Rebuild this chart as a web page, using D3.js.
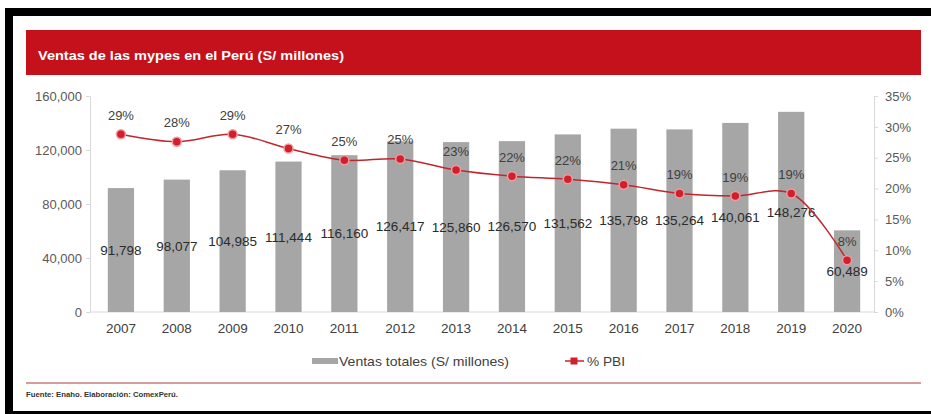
<!DOCTYPE html>
<html>
<head>
<meta charset="utf-8">
<script src="https://cdn.jsdelivr.net/npm/d3@7"></script>
<style>
  html, body { margin: 0; padding: 0; background: #fff; }
  svg { display: block; font-family: "Liberation Sans", Arial, sans-serif; }
</style>
</head>
<body>
<svg id="chart" width="931" height="414"></svg>
<script>
// ---- data ----
const years = ["2007","2008","2009","2010","2011","2012","2013","2014","2015","2016","2017","2018","2019","2020"];
const ventas = [91798, 98077, 104985, 111444, 116160, 126417, 125860, 126570, 131562, 135798, 135264, 140061, 148276, 60489];
const pbi = [28.8, 27.6, 28.8, 26.5, 24.6, 24.8, 23.0, 22.0, 21.5, 20.6, 19.2, 18.8, 19.2, 8.4];
const pbiLabels = ["29%","28%","29%","27%","25%","25%","23%","22%","22%","21%","19%","19%","19%","8%"];
const leftTicks = [0, 40000, 80000, 120000, 160000];
const rightTicks = [0, 5, 10, 15, 20, 25, 30, 35];
const title = "Ventas de las mypes en el Perú (S/ millones)";
const legendLabels = ["Ventas totales (S/ millones)", "% PBI"];
const source = "Fuente: Enaho. Elaboración: ComexPerú.";

const svg = d3.select("#chart");

// frame
svg.append("rect").attr("x", 9).attr("y", 12).attr("width", 940).attr("height", 403)
  .attr("fill", "none").attr("stroke", "#000").attr("stroke-width", 8);

// header
svg.append("rect").attr("x", 26).attr("y", 30).attr("width", 895).attr("height", 45).attr("fill", "#c4111b");
svg.append("text").attr("x", 38).attr("y", 55).attr("dy", "0.35em")
  .attr("fill", "#fff").attr("font-size", 13).attr("font-weight", "bold")
  .attr("textLength", 306).attr("lengthAdjust", "spacingAndGlyphs")
  .text(title);

// scales
const x = d3.scaleBand().domain(years).range([93, 875]).paddingInner(0.53).paddingOuter(0.265);
const y = d3.scaleLinear().domain([0, 160000]).range([312, 96]);
const y2 = d3.scaleLinear().domain([0, 35]).range([312, 96]);

// baseline
svg.append("line").attr("x1", 90).attr("x2", 874).attr("y1", y(0)).attr("y2", y(0))
  .attr("stroke", "#d9d9d9").attr("stroke-width", 1);

// left axis
const gl = svg.append("g").attr("transform", "translate(90,0)")
  .call(d3.axisLeft(y).tickValues(leftTicks).tickSize(4).tickPadding(4).tickFormat(d3.format(",")));
// right axis
const gr = svg.append("g").attr("transform", "translate(874,0)")
  .call(d3.axisRight(y2).tickValues(rightTicks).tickSize(4).tickPadding(7).tickFormat(d => d + "%"));
[gl, gr].forEach(g => {
  g.select(".domain").attr("stroke", "#d9d9d9");
  g.selectAll(".tick line").attr("stroke", "#d9d9d9");
  g.selectAll("text").attr("fill", "#595959").attr("font-size", 13).attr("font-family", "Liberation Sans, Arial, sans-serif");
});

// bottom axis (years)
const gb = svg.append("g").attr("transform", `translate(0,${y(0)})`)
  .call(d3.axisBottom(x).tickSize(0).tickPadding(11));
gb.select(".domain").remove();
gb.selectAll("text").attr("fill", "#404040").attr("font-size", 13.5).attr("font-family", "Liberation Sans, Arial, sans-serif");

// bars
svg.append("g").selectAll("rect").data(years).join("rect")
  .attr("x", d => x(d)).attr("width", x.bandwidth())
  .attr("y", (d, i) => y(ventas[i])).attr("height", (d, i) => y(0) - y(ventas[i]))
  .attr("fill", "#a6a6a6");

// bar value labels (centered)
svg.append("g").selectAll("text").data(years).join("text")
  .attr("x", d => x(d) + x.bandwidth() / 2)
  .attr("y", (d, i) => (y(ventas[i]) + y(0)) / 2)
  .attr("dy", "0.35em").attr("text-anchor", "middle")
  .attr("fill", "#2b2b2b").attr("font-size", 13.5)
  .text((d, i) => d3.format(",")(ventas[i]));

// line
const line = d3.line()
  .x((d, i) => x(years[i]) + x.bandwidth() / 2)
  .y(d => y2(d))
  .curve(d3.curveCatmullRom.alpha(0.5));
svg.append("path").datum(pbi).attr("d", line)
  .attr("fill", "none").attr("stroke", "#c0272d").attr("stroke-width", 1.5);

// markers
svg.append("g").selectAll("circle").data(pbi).join("circle")
  .attr("cx", (d, i) => x(years[i]) + x.bandwidth() / 2)
  .attr("cy", d => y2(d))
  .attr("r", 4.5)
  .attr("fill", "#d0202e").attr("stroke", "#f19a9f").attr("stroke-width", 1.5);

// pct labels
svg.append("g").selectAll("text").data(pbi).join("text")
  .attr("x", (d, i) => x(years[i]) + x.bandwidth() / 2)
  .attr("y", d => y2(d) - 19)
  .attr("dy", "0.35em").attr("text-anchor", "middle")
  .attr("fill", "#404040").attr("font-size", 13)
  .text((d, i) => pbiLabels[i]);

// legend
const lg = svg.append("g");
lg.append("rect").attr("x", 312).attr("y", 358).attr("width", 26).attr("height", 6).attr("fill", "#a6a6a6");
lg.append("text").attr("x", 339).attr("y", 361).attr("dy", "0.35em")
  .attr("fill", "#404040").attr("font-size", 13.5)
  .attr("textLength", 170).attr("lengthAdjust", "spacingAndGlyphs").text(legendLabels[0]);
lg.append("line").attr("x1", 565).attr("x2", 584).attr("y1", 361).attr("y2", 361)
  .attr("stroke", "#c0272d").attr("stroke-width", 1.5);
lg.append("rect").attr("x", 570.5).attr("y", 357.5).attr("width", 7).attr("height", 7).attr("fill", "#d0202e");
lg.append("text").attr("x", 587).attr("y", 361).attr("dy", "0.35em")
  .attr("fill", "#404040").attr("font-size", 13.5)
  .attr("textLength", 38).attr("lengthAdjust", "spacingAndGlyphs").text(legendLabels[1]);

// bottom rule + source
svg.append("line").attr("x1", 26).attr("x2", 921).attr("y1", 383).attr("y2", 383)
  .attr("stroke", "#c77b7f").attr("stroke-width", 1.5);
svg.append("text").attr("x", 26).attr("y", 395).attr("dy", "0.35em")
  .attr("fill", "#333").attr("font-size", 7).attr("font-weight", "bold")
  .attr("textLength", 152).attr("lengthAdjust", "spacingAndGlyphs")
  .text(source);
</script>
</body>
</html>
